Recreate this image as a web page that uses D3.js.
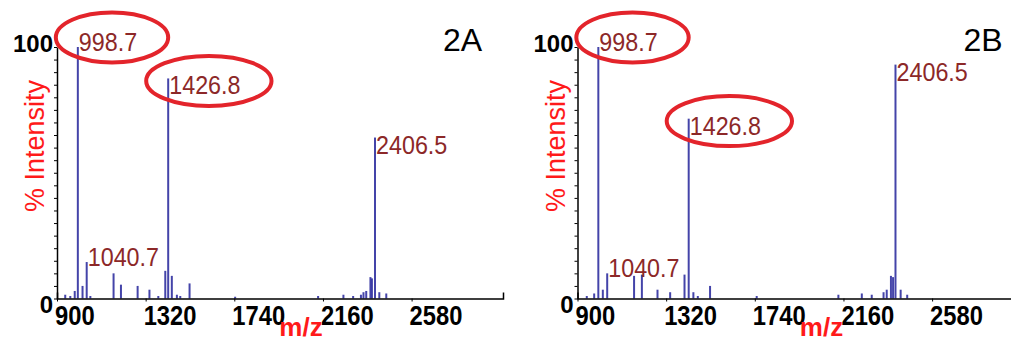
<!DOCTYPE html>
<html>
<head>
<meta charset="utf-8">
<script src="https://cdn.jsdelivr.net/npm/d3@7"></script>
<style>
  body { margin: 0; background: #fff; }
  text { font-family: Arial, 'Liberation Sans', sans-serif; }
</style>
</head>
<body>
<div id="container"></div>
<script>
// --- data ---
const xTicks = [900, 1320, 1740, 2160, 2580];
const yTicks = [0, 100];

const peaksA_mz = [939, 963, 984, 998.7, 1021, 1040.7, 1058, 1168, 1203, 1282, 1338, 1380, 1413, 1426.8, 1444, 1468, 1484, 1528,
  1744, 2137, 2257, 2303, 2340, 2352, 2365, 2385, 2392, 2406.5, 2427, 2460];
const peaksA_int = [1.5, 1, 3, 100, 5, 14.5, 1, 10, 5.5, 5, 3.5, 1, 11, 87.5, 9, 1.5, 1, 6,
  0.7, 1, 1.5, 1, 1.5, 2.5, 3, 8.5, 8, 64, 2.5, 2];

const peaksB_mz = [944, 979, 998.7, 1020, 1040.7, 1168, 1205, 1279, 1339, 1407, 1426.8, 1449, 1470, 1528,
  1749, 2136, 2247, 2294, 2350, 2365, 2385, 2395, 2406.5, 2431, 2462];
const peaksB_int = [1, 2, 100, 3.5, 10, 9, 9.5, 3.5, 2.5, 9.5, 71.5, 2.5, 1, 5,
  1, 1.5, 2, 1.5, 2.5, 3.5, 9, 8.5, 93, 3.5, 1.5];

const labelsA = ['998.7', '1040.7', '1426.8', '2406.5'];
const labelsB = ['998.7', '1040.7', '1426.8', '2406.5'];
const circled = ['998.7', '1426.8'];

const panels = [
  { name: '2A', mz: peaksA_mz, int: peaksA_int, labels: labelsA, left: 57 },
  { name: '2B', mz: peaksB_mz, int: peaksB_int, labels: labelsB, left: 577.5 },
];

// --- layout ---
const width = 1011;
const height = 337;
const plotW = 446;
const plotTop = 47;
const base = 298.5;
const squeeze = 0.88; // the source text is a little taller than wide

const svg = d3.select('#container').append('svg')
  .attr('width', width)
  .attr('height', height);

svg.append('rect').attr('width', width).attr('height', height).attr('fill', '#fff');

const yScale = d3.scaleLinear().domain([0, 100]).range([base, plotTop]);

panels.forEach((p) => {
  const xScale = d3.scaleLinear().domain([900, 3013]).range([0, plotW]);
  const g = svg.append('g').attr('transform', `translate(${p.left},0)`);

  // peaks
  const peaks = p.mz.map((m, i) => ({ mz: m, h: p.int[i] }));
  g.append('g').selectAll('line')
    .data(peaks)
    .enter()
    .append('line')
    .attr('x1', (d) => xScale(d.mz))
    .attr('x2', (d) => xScale(d.mz))
    .attr('y1', yScale(0))
    .attr('y2', (d) => yScale(d.h))
    .attr('stroke', '#3030a0')
    .attr('stroke-opacity', 0.9)
    .attr('stroke-width', 2);

  // y axis
  g.append('g')
    .call(d3.axisLeft(yScale).tickValues(d3.range(0, 101, 5)).tickSize(3).tickSizeOuter(0).tickFormat(''))
    .call((a) => a.select('.domain').attr('stroke', '#000').attr('stroke-width', 1.5));

  // x axis
  g.append('g')
    .attr('transform', `translate(0,${base})`)
    .call(d3.axisBottom(xScale).tickValues(xTicks).tickSize(3).tickSizeOuter(-6).tickFormat(''))
    .call((a) => a.select('.domain').attr('stroke', '#000').attr('stroke-width', 1.5));

  // x tick labels (left aligned on tick)
  g.append('g').selectAll('text')
    .data(xTicks)
    .enter()
    .append('text')
    .attr('transform', (d) => `translate(${xScale(d) - 2},325) scale(${squeeze},1)`)
    .attr('font-size', 27)
    .attr('font-weight', 'bold')
    .attr('fill', '#000')
    .text((d) => d);

  // y tick labels
  g.append('g').selectAll('text')
    .data(yTicks)
    .enter()
    .append('text')
    .attr('x', -4)
    .attr('y', (d) => yScale(d))
    .attr('dy', (d) => (d === 0 ? '0.6em' : '0.2em'))
    .attr('text-anchor', 'end')
    .attr('font-size', 24)
    .attr('font-weight', 'bold')
    .attr('fill', '#000')
    .text((d) => d);

  // axis titles
  g.append('text')
    .attr('transform', `translate(-13,146) rotate(-90)`)
    .attr('text-anchor', 'middle')
    .attr('font-size', 27)
    .attr('fill', '#ff1a1a')
    .text('% Intensity');

  g.append('text')
    .attr('x', 244)
    .attr('y', 336)
    .attr('text-anchor', 'middle')
    .attr('font-size', 26)
    .attr('font-weight', 'bold')
    .attr('fill', '#ff1a1a')
    .text('m/z');

  // panel name
  g.append('text')
    .attr('x', 386)
    .attr('y', 51)
    .attr('font-size', 32)
    .attr('fill', '#000')
    .text(p.name);

  // peak labels
  const lab = p.labels.map((t) => {
    const h = p.int[p.mz.indexOf(+t)];
    return { t, tx: xScale(+t) + 1, ty: yScale(h) + (h > 95 || h < 20 ? 4 : 16) };
  });
  const texts = g.append('g').selectAll('text')
    .data(lab)
    .enter()
    .append('text')
    .attr('transform', (d) => `translate(${d.tx},${d.ty}) scale(${squeeze},1)`)
    .attr('font-size', 26.5)
    .attr('fill', '#8c2828')
    .text((d) => d.t);

  // red ellipses around highlighted labels
  texts.filter((d) => circled.includes(d.t)).each(function ring(d) {
    const bb = this.getBBox();
    g.append('ellipse')
      .attr('cx', d.tx + (bb.x + bb.width / 2) * squeeze + 4)
      .attr('cy', d.ty + bb.y + bb.height / 2 - 4)
      .attr('rx', (bb.width * squeeze) / 2 + 27)
      .attr('ry', 25)
      .attr('fill', 'none')
      .attr('stroke', '#e3242b')
      .attr('stroke-width', 4);
  });
});
</script>
</body>
</html>
